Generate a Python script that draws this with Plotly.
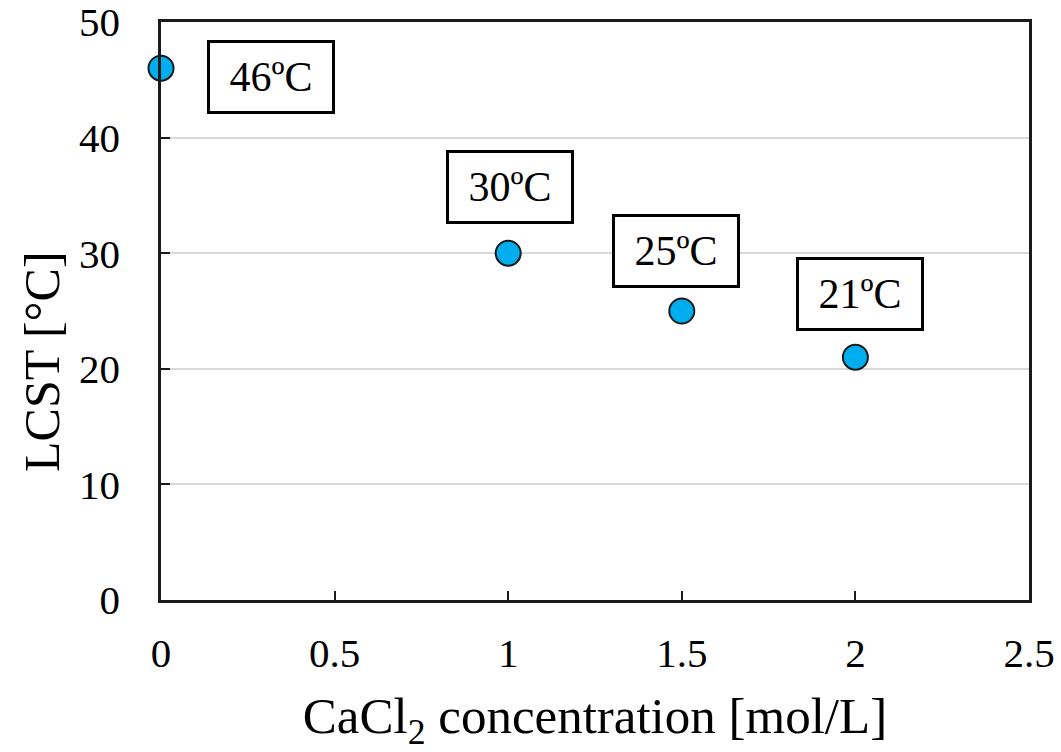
import plotly.graph_objects as go

# CaCl2 concentration (mol/L) vs. measured LCST (°C)
concentration = [0, 1, 1.5, 2]
lcst = [46, 30, 25, 21]
labels = ["46ºC", "30ºC", "25ºC", "21ºC"]
# label box centres in data units
label_x = [0.317, 1.004, 1.482, 2.012]
label_y = [45.2, 35.7, 30.2, 26.5]

x_ticks = [0, 0.5, 1, 1.5, 2, 2.5]
x_ticktext = ["0", "0.5", "1", "1.5", "2", "2.5"]
y_ticks = [0, 10, 20, 30, 40, 50]

FONT = "Liberation Serif, Times New Roman, serif"

fig = go.Figure()
fig.add_trace(go.Scatter(
    x=concentration, y=lcst, mode="markers",
    marker=dict(size=25, color="#00aeef", line=dict(color="#1a1a1a", width=2)),
    cliponaxis=False, showlegend=False,
))

for lx, ly, txt in zip(label_x, label_y, labels):
    fig.add_annotation(
        x=lx, y=ly, text=txt, showarrow=False,
        font=dict(family=FONT, size=42, color="black"),
        bordercolor="black", borderwidth=3, borderpad=3,
        width=116, height=62, bgcolor="white",
    )

fig.add_annotation(
    xref="paper", yref="paper", x=-0.137, y=0.412,
    xanchor="center", yanchor="middle",
    text="LCST [°C]", textangle=-90, showarrow=False,
    font=dict(family=FONT, size=50, color="black"),
)

fig.update_xaxes(
    range=[0, 2.5], tickvals=x_ticks, ticktext=x_ticktext,
    showgrid=False, zeroline=False, automargin=False,
    showline=True, linecolor="#1a1a1a", linewidth=2.5, mirror=True,
    ticks="inside", ticklen=9, tickwidth=2, tickcolor="#1a1a1a",
    ticklabelstandoff=15, ticklabeloverflow="allow",
    tickfont=dict(family=FONT, size=41, color="black"),
    title=dict(text="CaCl<sub>2</sub> concentration [mol/L]",
               font=dict(family=FONT, size=51, color="black"), standoff=26),
)
fig.update_yaxes(
    range=[0, 50], tickvals=y_ticks,
    showgrid=True, gridcolor="#d9d9d9", gridwidth=2, zeroline=False,
    automargin=False,
    showline=True, linecolor="#1a1a1a", linewidth=2.5, mirror=True,
    ticks="inside", ticklen=9, tickwidth=2, tickcolor="#1a1a1a",
    ticklabelstandoff=30, ticklabeloverflow="allow",
    tickfont=dict(family=FONT, size=41, color="black"),
)

fig.update_layout(
    width=1061, height=752,
    margin=dict(l=161, r=32, t=22, b=152),
    paper_bgcolor="white", plot_bgcolor="white",
)

fig.write_html("out.html")
